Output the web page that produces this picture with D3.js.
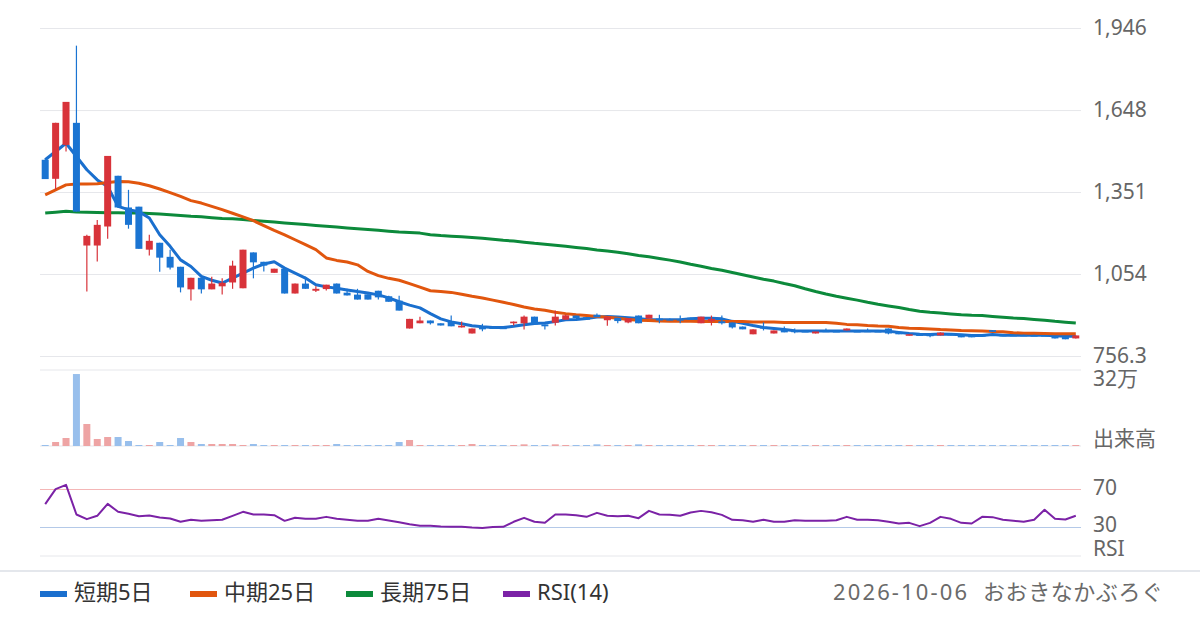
<!DOCTYPE html>
<html>
<head>
<meta charset="utf-8">
<script src="https://cdn.jsdelivr.net/npm/d3@7"></script>
<style>
    body { margin: 0; background: #fff; }
    svg { display: block; font-family: "Noto Sans", "Noto Sans CJK JP", sans-serif; }
</style>
</head>
<body>
<svg id="grafico" width="1200" height="630"></svg>
<script>
// -- dados -----------------------------------------------------------
const abertura = [1468,1399,1522,1602,1157,1157,1226,1410,1295,1298,
    1142,1167,1116,1080,998,1040,998,1009,1023,1002,
    1132,1098,1058,1073,983,1019,993,999,1019,986,
    979,980,993,973,957,856,875,885,875,881,
    860,838,860,860,859,875,875,899,871,877,
    888,903,897,906,886,895,878,903,892,892,
    890,890,895,875,882,882,878,863,835,862,
    838,854,848,847,838,848,847,849,847,848,
    847,856,844,831,838,838,831,838,835,831,
    832,850,833,833,833,832,832,828,825,820];
const maxima = [1470,1602,1678,1882,1196,1250,1482,1410,1359,1298,
    1196,1167,1142,1080,1040,1040,1044,1038,1102,1142,
    1132,1098,1073,1073,1019,1044,1009,1015,1019,1000,
    1000,980,993,975,975,891,899,885,875,903,
    881,856,873,862,860,881,903,899,871,921,
    906,903,897,910,899,895,893,903,906,906,
    892,903,895,899,903,903,878,863,853,878,
    849,863,856,848,845,856,848,856,848,856,
    847,856,844,835,838,838,842,838,835,831,
    833,850,834,834,834,833,833,828,825,831];
const minima = [1398,1359,1498,1280,990,1099,1182,1295,1218,1145,
    1121,1062,1070,987,958,983,998,979,1000,1002,
    1038,1063,1058,983,983,1000,988,994,983,976,
    961,961,961,953,921,856,875,871,867,864,
    860,838,846,855,855,867,852,871,852,867,
    888,894,888,897,866,875,875,875,892,875,
    886,875,888,875,867,871,856,853,835,849,
    838,842,839,845,838,845,845,849,845,845,
    845,835,835,831,829,824,831,831,824,824,
    830,844,831,831,830,830,830,820,817,820];
const fechamento = [1398,1602,1678,1280,1192,1232,1482,1295,1232,1145,
    1174,1113,1077,1005,1040,998,1019,1022,1084,1142,
    1096,1084,1073,983,1019,1000,1000,1015,983,976,
    961,961,969,953,921,891,885,875,867,864,
    866,856,853,857,857,881,899,871,864,899,
    904,894,888,897,899,883,893,875,906,885,
    888,886,888,899,891,875,860,853,853,856,
    849,842,844,845,845,846,846,856,846,846,
    845,838,835,835,829,828,841,831,824,824,
    831,844,832,832,832,831,831,820,817,831];
const volume = [4200,16800,33700,303000,92600,29500,37900,37900,21000,4200,
    4200,16800,4200,33700,16800,8400,8400,8400,8400,4200,
    8400,4200,4200,4200,4200,4200,4200,4200,8400,4200,
    4200,4200,4200,4200,16800,25300,4200,4200,4200,4200,
    4200,8400,4200,4200,4200,4200,7000,4200,4200,7000,
    4200,4200,4200,7000,4200,4200,4200,7000,4200,4200,
    4200,4200,4200,4200,4200,4200,4200,4200,4200,4200,
    4200,4200,4200,4200,4200,4200,4200,4200,4200,4200,
    4200,4200,4200,4200,4200,4200,4200,4200,4200,4200,
    4200,4200,4200,4200,4200,4200,4200,4200,4200,4200];
const ma5 = [1468,1498,1528,1480,1432,1395,1371,1299,1287,1280,
    1257,1196,1154,1105,1081,1045,1031,1021,1039,1057,
    1075,1090,1098,1075,1057,1039,1015,1007,1002,996,
    990,985,978,967,953,941,931,910,891,880,
    873,866,862,860,860,864,870,874,876,881,
    888,889,892,898,900,898,895,892,888,888,
    888,888,891,893,893,891,882,875,867,860,
    856,852,848,847,847,847,847,847,847,847,
    847,846,842,838,835,834,836,835,833,831,
    831,834,832,832,832,832,832,830,828,828];
const ma25 = [1341,1359,1377,1380,1380,1381,1386,1389,1388,1383,
    1374,1362,1349,1335,1320,1311,1299,1287,1274,1261,
    1247,1229,1212,1196,1178,1160,1142,1112,1103,1097,
    1087,1063,1048,1038,1031,1019,1006,993,990,987,
    980,973,967,959,951,943,934,927,922,915,
    910,906,903,900,897,893,889,886,885,883,
    882,882,882,881,881,881,881,881,880,880,
    880,878,878,878,878,878,875,871,870,867,
    865,864,860,857,856,854,852,851,849,848,
    847,845,844,841,839,839,838,837,837,837];
const ma75 = [1275,1278,1281,1279,1278,1277,1276,1276,1275,1275,
    1273,1271,1269,1266,1263,1261,1258,1255,1254,1251,
    1248,1245,1242,1239,1236,1233,1230,1227,1224,1221,
    1218,1215,1212,1209,1206,1204,1202,1196,1193,1191,
    1189,1186,1183,1180,1176,1173,1169,1165,1162,1158,
    1154,1150,1146,1141,1137,1133,1127,1121,1116,1110,
    1104,1097,1089,1082,1074,1067,1059,1051,1043,1035,
    1028,1019,1011,1000,990,981,973,966,959,951,
    944,938,932,925,919,915,912,909,906,904,
    903,900,897,894,892,889,886,882,879,876];
const rsi = [54.6,70.4,74.9,43.7,38.8,42.3,54.9,46.5,44.4,41.9,
    42.6,40.5,39.5,36,38.1,37,37.7,38.1,42.3,46.5,
    43.7,43.7,43,37,40.2,39.1,39.1,41.2,39.1,38.1,
    37,37,39.1,37.4,35.6,33.5,31.8,31.8,31.1,30.7,
    30.7,30,29.6,30.4,30.7,36,40.2,36,34.9,43.7,
    43.7,43,41.2,45.4,42.3,41.9,42.3,39.8,47.5,43.7,
    43.3,42.3,45.8,47.5,46.1,43.3,38.1,37.7,36,38.1,
    36,36,37.7,37,37,37,37.7,41.2,38.1,38.1,
    37.7,36,34.2,34.9,31.4,34.9,41.2,39.1,34.9,34.2,
    41.2,40.9,38.1,37,36,38.1,48.6,39.1,38.4,42.3];

const precoTicks = [1946, 1648.4, 1351.1, 1053.7, 756.3];
const precoLabels = ["1,946", "1,648", "1,351", "1,054", "756.3"];
const volTopo = 320000;
const volLabels = ["32万", "出来高"];
const rsiTicks = [70, 30];
const rsiLabels = ["70", "30", "RSI"];
const legendaNomes = ["短期5日", "中期25日", "長期75日", "RSI(14)"];
const rodapeData = "2026-10-06";
const rodapeNome = "おおきなかぶろぐ";

// -- cores ----------------------------------------------------------
const corAlta = "#d8333a", corBaixa = "#1a74d2";
const corVolAlta = "#eea4a4", corVolBaixa = "#98bfec";
const coresMedias = ["#1a6fce", "#e1560e", "#0c8a3b", "#7b22a6"];

const svg = d3.select("#grafico");
const esq = 40, dir = 1081;

// -- escalas ----------------------------------------------------------
const x = d3.scaleBand().domain(d3.range(abertura.length)).range([esq, dir]);
const meio = function(i) { return x(i) + x.bandwidth() / 2; };
const yPreco = d3.scaleLinear().domain([756.3, 1946]).range([356, 28]);
const yVol = d3.scaleLinear().domain([0, volTopo]).range([446, 370]);
const yRsi = d3.scaleLinear().domain([0, 100]).range([556, 461]);

const corGrade = "#e6e7eb", corTexto = "#666", tamTexto = "21px";

// -- eixo do preco (grade + labels a direita) ----------------------------
const eixoPreco = d3.axisRight(yPreco)
    .tickValues(precoTicks)
    .tickSize(-(dir - esq))
    .tickPadding(12)
    .tickFormat(function(d, i) { return precoLabels[i]; });

const gPreco = svg.append("g")
    .attr("transform", "translate(" + dir + ",0)")
    .call(eixoPreco);
gPreco.select(".domain").remove();
gPreco.selectAll("line").attr("stroke", corGrade);
gPreco.selectAll("text")
    .attr("fill", corTexto)
    .style("font-size", tamTexto)
    .style("font-family", "Noto Sans, sans-serif");

// -- grade do volume ----------------------------------------------------
[volTopo, 0].forEach(function(v) {
    svg.append("line")
        .attr("x1", esq).attr("x2", dir)
        .attr("y1", yVol(v)).attr("y2", yVol(v))
        .attr("stroke", corGrade);
});
svg.append("text").text(volLabels[0])
    .attr("x", dir + 12).attr("y", yVol(volTopo) + 10)
    .attr("dominant-baseline", "middle")
    .attr("fill", corTexto).style("font-size", tamTexto);
svg.append("text").text(volLabels[1])
    .attr("x", dir + 12).attr("y", yVol(0) - 6)
    .attr("dominant-baseline", "middle")
    .attr("fill", corTexto).style("font-size", tamTexto);

// -- grade do RSI --------------------------------------------------------
const coresRsi = ["#f4b6b6", "#b4c9e8"];
rsiTicks.forEach(function(v, i) {
    svg.append("line")
        .attr("x1", esq).attr("x2", dir)
        .attr("y1", yRsi(v)).attr("y2", yRsi(v))
        .attr("stroke", coresRsi[i]);
});
svg.append("line")
    .attr("x1", esq).attr("x2", dir)
    .attr("y1", yRsi(0)).attr("y2", yRsi(0))
    .attr("stroke", corGrade);
[yRsi(70), yRsi(30) - 1, yRsi(0) - 6].forEach(function(yy, i) {
    svg.append("text").text(rsiLabels[i])
        .attr("x", dir + 12).attr("y", yy)
        .attr("dominant-baseline", "middle")
        .attr("fill", corTexto).style("font-size", tamTexto);
});

// -- barras de volume ---------------------------------------------------
const larguraBarra = 7;
svg.append("g").selectAll("rect")
    .data(volume)
    .enter()
    .append("rect")
    .attr("x", function(d, i) { return meio(i) - larguraBarra / 2; })
    .attr("y", function(d) { return yVol(d); })
    .attr("width", larguraBarra)
    .attr("height", function(d) { return yVol(0) - yVol(d); })
    .attr("fill", function(d, i) { return fechamento[i] >= abertura[i] ? corVolAlta : corVolBaixa; });

// -- medias moveis ------------------------------------------------------
const linhaPreco = d3.line()
    .x(function(d, i) { return meio(i); })
    .y(function(d) { return yPreco(d); });

[ma75, ma5, ma25].forEach(function(serie, k) {
    const cor = [coresMedias[2], coresMedias[0], coresMedias[1]][k];
    svg.append("path")
        .attr("d", linhaPreco(serie))
        .attr("fill", "none")
        .attr("stroke", cor)
        .attr("stroke-width", 3)
        .attr("stroke-linejoin", "round");
});

// -- candles ------------------------------------------------------------
const gCandle = svg.append("g");
abertura.forEach(function(a, i) {
    const f = fechamento[i];
    const cor = f >= a ? corAlta : corBaixa;
    gCandle.append("line")
        .attr("x1", meio(i)).attr("x2", meio(i))
        .attr("y1", yPreco(maxima[i])).attr("y2", yPreco(minima[i]))
        .attr("stroke", cor)
        .attr("stroke-width", 1.2);
    const topo = yPreco(Math.max(a, f));
    const alt = Math.max(1.5, yPreco(Math.min(a, f)) - topo);
    gCandle.append("rect")
        .attr("x", meio(i) - larguraBarra / 2)
        .attr("y", topo)
        .attr("width", larguraBarra)
        .attr("height", alt)
        .attr("fill", cor);
});

// -- RSI ----------------------------------------------------------------
const linhaRsi = d3.line()
    .x(function(d, i) { return meio(i); })
    .y(function(d) { return yRsi(d); });
svg.append("path")
    .attr("d", linhaRsi(rsi))
    .attr("fill", "none")
    .attr("stroke", coresMedias[3])
    .attr("stroke-width", 2)
    .attr("stroke-linejoin", "round");

// -- separador e legenda ------------------------------------------------
svg.append("line")
    .attr("x1", 0).attr("x2", 1200)
    .attr("y1", 571).attr("y2", 571)
    .attr("stroke", "#e4e7ec")
    .attr("stroke-width", 2);

const posLegenda = [40, 190, 346, 503];
legendaNomes.forEach(function(nome, i) {
    svg.append("rect")
        .attr("x", posLegenda[i]).attr("y", 591)
        .attr("width", 27).attr("height", 6)
        .attr("fill", coresMedias[i]);
    svg.append("text").text(nome)
        .attr("x", posLegenda[i] + 34).attr("y", 594)
        .attr("dominant-baseline", "middle")
        .attr("fill", "#333")
        .style("font-size", "22px");
});
// rodape: data + nome do blog
svg.append("text").text(rodapeData)
    .attr("x", 833).attr("y", 594)
    .attr("dominant-baseline", "middle")
    .attr("fill", "#6a6a6a")
    .attr("textLength", 134)
    .attr("lengthAdjust", "spacing")
    .style("font-size", "22px");
svg.append("text").text(rodapeNome)
    .attr("x", 983).attr("y", 594)
    .attr("dominant-baseline", "middle")
    .attr("fill", "#6a6a6a")
    .attr("textLength", 180)
    .attr("lengthAdjust", "spacing")
    .style("font-size", "22px");
</script>
</body>
</html>
